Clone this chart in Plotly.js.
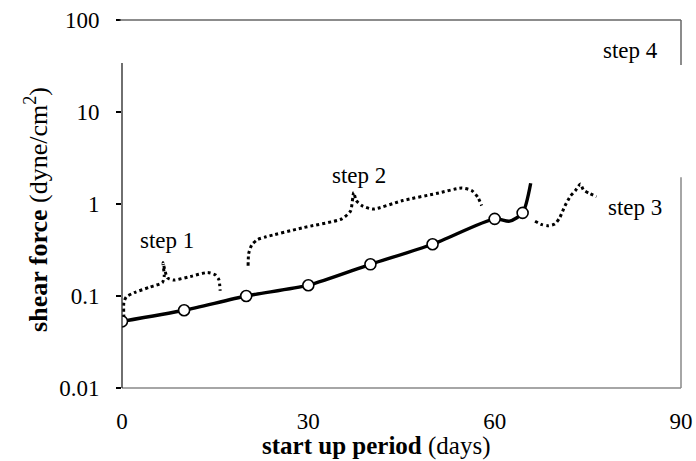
<!DOCTYPE html>
<html>
<head>
<meta charset="utf-8">
<script src="https://cdn.plot.ly/plotly-3.0.1.min.js"></script>
<style>html,body{margin:0;padding:0;background:#fff;}#chart{width:696px;height:461px;}</style>
</head>
<body>
<div id="chart"></div>
<script>
// measured shear force (dyne/cm2) vs start-up day
const days  = [0, 10, 20, 30, 40, 50, 60, 64.5];
const shear = [0.053, 0.070, 0.100, 0.131, 0.221, 0.365, 0.69, 0.80];
// solid curve as drawn in the figure (passes through the markers, dips after day 60)
const curveDays  = [0, 10, 20, 30, 40, 50, 60, 62.4, 64.5, 65.8];
const curveShear = [0.053, 0.070, 0.100, 0.131, 0.221, 0.365, 0.69, 0.65, 0.80, 1.68];

// dotted brace curves marking the steps
const step1X = [0.3, 0.3, 0.7, 2.0, 4.5, 6.5, 6.8, 6.6, 7.3, 8.3, 11.0, 13.8, 15.0, 15.6, 15.8];
const step1Y = [0.058, 0.085, 0.098, 0.109, 0.125, 0.140, 0.165, 0.23, 0.158, 0.149, 0.163, 0.180, 0.170, 0.150, 0.114];
const step2X = [20.3, 20.4, 20.9, 21.8, 23.2, 29.0, 35.4, 36.8, 37.3, 37.7, 38.6, 40.4, 45.2, 50.6, 54.7, 56.3, 57.3, 57.9];
const step2Y = [0.213, 0.29, 0.36, 0.41, 0.44, 0.55, 0.69, 0.84, 1.34, 1.09, 0.96, 0.88, 1.09, 1.30, 1.49, 1.40, 1.18, 0.96];
const step3X = [66.5, 67.5, 68.6, 69.7, 70.5, 71.3, 72.2, 73.0, 73.8, 74.3, 75.3, 76.4];
const step3Y = [0.65, 0.60, 0.58, 0.605, 0.715, 0.95, 1.22, 1.40, 1.65, 1.42, 1.30, 1.20];

const stepLabels = ['step 1', 'step 2', 'step 3', 'step 4'];
const stepLabelX = [7.3, 38.1, 82.6, 81.8];
const stepLabelY = [0.40, 2.03, 0.92, 46.6];

const xTicks = [0, 30, 60, 90];
const yTicks = [0.01, 0.1, 1, 10, 100];
const yTickText = ['0.01', '0.1', '1', '10', '100'];

const FONT = 'Liberation Serif, Times New Roman, serif';
const dotted = {color: '#000', width: 3, dash: '3px,3px'};

const traces = [
  {x: step1X, y: step1Y, mode: 'lines', line: Object.assign({shape: 'spline', smoothing: 0.6}, dotted), hoverinfo: 'skip'},
  {x: step2X, y: step2Y, mode: 'lines', line: Object.assign({shape: 'spline', smoothing: 0.6}, dotted), hoverinfo: 'skip'},
  {x: step3X, y: step3Y, mode: 'lines', line: Object.assign({shape: 'spline', smoothing: 0.6}, dotted), hoverinfo: 'skip'},
  {x: curveDays, y: curveShear, mode: 'lines',
   line: {color: '#000', width: 3.4, shape: 'spline', smoothing: 0.7}},
  {x: days, y: shear, mode: 'markers',
   marker: {symbol: 'circle', size: 11, color: '#fff', line: {color: '#000', width: 1.6}}}
];

const annotations = stepLabels.map((t, i) => ({
  x: stepLabelX[i], y: Math.log10(stepLabelY[i]), xref: 'x', yref: 'y',
  text: t, showarrow: false, xanchor: 'center', yanchor: 'middle',
  font: {family: FONT, size: 23, color: '#000'}
}));
annotations.push({
  xref: 'paper', yref: 'paper', x: -0.152, y: 0.484, textangle: -90,
  text: '<b>shear force</b> (dyne/cm<sup>2</sup>)', showarrow: false,
  xanchor: 'center', yanchor: 'middle', font: {family: FONT, size: 26, color: '#000'}
});
annotations.push({
  xref: 'paper', yref: 'paper', x: 0.454, y: -0.158,
  text: '<b>start up period</b> (days)', showarrow: false,
  xanchor: 'center', yanchor: 'middle', font: {family: FONT, size: 25, color: '#000'}
});

const shapes = [
  {type: 'line', xref: 'paper', yref: 'paper', x0: -0.004, x1: 1, y0: 1, y1: 1, line: {color: '#666', width: 1.5}},
  {type: 'line', xref: 'paper', yref: 'paper', x0: 0, x1: 1, y0: 0, y1: 0, line: {color: '#888', width: 1.5}},
  {type: 'line', xref: 'paper', yref: 'paper', x0: 0, x1: 0, y0: 0, y1: 0.883, line: {color: '#222', width: 1.3}},
  {type: 'line', xref: 'paper', yref: 'paper', x0: 1, x1: 1, y0: 0.878, y1: 1, line: {color: '#666', width: 1.5}},
  {type: 'line', xref: 'paper', yref: 'paper', x0: 1, x1: 1, y0: 0, y1: 0.573, line: {color: '#888', width: 1.5}}
];

const layout = {
  width: 696, height: 461,
  margin: {l: 122, r: 15, t: 20, b: 73},
  paper_bgcolor: '#fff', plot_bgcolor: '#fff',
  showlegend: false,
  font: {family: FONT, color: '#000'},
  xaxis: {
    range: [0, 90], tickvals: xTicks, ticktext: xTicks.map(String),
    showgrid: false, zeroline: false, showline: false, ticks: '',
    ticklabelstandoff: 17, tickfont: {family: FONT, size: 23, color: '#000'}
  },
  yaxis: {
    type: 'log', range: [-2, 2], tickvals: yTicks, ticktext: yTickText,
    showgrid: false, zeroline: false, showline: false,
    ticks: 'outside', ticklen: 5, tickwidth: 1.3, tickcolor: '#000',
    ticklabelstandoff: 12, tickfont: {family: FONT, size: 23, color: '#000'}
  },
  annotations: annotations,
  shapes: shapes
};

Plotly.newPlot('chart', traces, layout, {staticPlot: true});
</script>
</body>
</html>
